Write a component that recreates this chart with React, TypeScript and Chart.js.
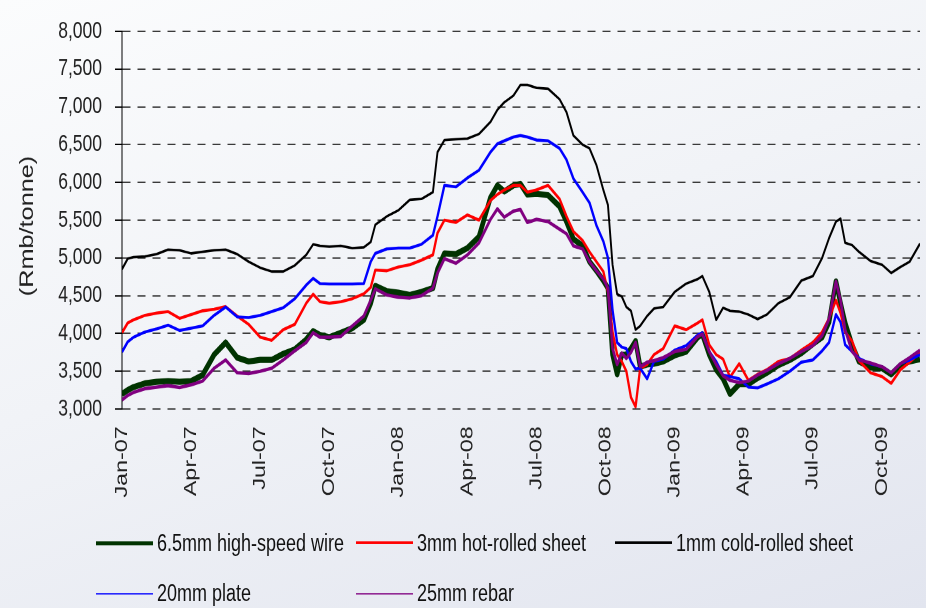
import React, { useEffect, useRef } from 'react';
import { Chart, registerables } from 'chart.js';
Chart.register(...registerables);

// Vertical stretch of the original picture (text looks taller than wide)
const SY = 1.33;
const W = 926;
const H = Math.round(608 / SY);
const FONT = "'Liberation Sans', Arial, Helvetica, sans-serif";

// x values: months since Jan-2007
const months = [
  0, 0.25, 0.5, 1, 1.5, 2, 2.5, 3, 3.5, 4,
  4.5, 5, 5.5, 6, 6.5, 7, 7.5, 8, 8.3, 8.6,
  9, 9.5, 10, 10.5, 10.8, 11, 11.5, 12, 12.5, 13,
  13.5, 13.7, 14, 14.5, 15, 15.5, 16, 16.3, 16.6, 17,
  17.3, 17.6, 18, 18.5, 19, 19.3, 19.6, 20, 20.3, 20.6,
  20.9, 21.1, 21.3, 21.5, 21.7, 21.9, 22.1, 22.3, 22.5, 22.8,
  23.1, 23.5, 24, 24.5, 25, 25.2, 25.5, 25.8, 26.1, 26.4,
  26.8, 27.2, 27.6, 28, 28.5, 29, 29.5, 30, 30.4, 30.7,
  31, 31.2, 31.4, 31.7, 32, 32.5, 33, 33.4, 33.8, 34.2,
  34.65,
];

const tickMonths = [0, 3, 6, 9, 12, 15, 18, 21, 24, 27, 30, 33];
const tickLabels = ['Jan-07', 'Apr-07', 'Jul-07', 'Oct-07', 'Jan-08', 'Apr-08', 'Jul-08', 'Oct-08', 'Jan-09', 'Apr-09', 'Jul-09', 'Oct-09'];
const yTitle = '(Rmb/tonne)';

const wire = [
  3200, 3250, 3290, 3340, 3360, 3370, 3360, 3370, 3450, 3720,
  3880, 3680, 3630, 3650, 3650, 3730, 3790, 3920, 4030, 3980,
  3950, 4010, 4070, 4180, 4400, 4630, 4560, 4540, 4510, 4550,
  4600, 4850, 5060, 5050, 5130, 5280, 5800, 5960, 5880, 5960,
  5980, 5840, 5850, 5830, 5680, 5480, 5250, 5160, 4950, 4830,
  4700, 4600, 3720, 3460, 3720, 3720, 3800, 3900, 3560, 3590,
  3600, 3630, 3710, 3760, 3950, 3990, 3720, 3520, 3400, 3200,
  3330, 3330, 3410, 3480, 3580, 3650, 3740, 3860, 3950, 4150,
  4690, 4400, 4140, 3850, 3630, 3550, 3540, 3460, 3580, 3630,
  3660,
];

const hotRolled = [
  4010, 4140, 4180, 4240, 4270, 4290, 4200, 4250, 4300, 4320,
  4355, 4230, 4120, 3950, 3910, 4050, 4120, 4400, 4520, 4420,
  4400, 4420, 4460, 4525, 4610, 4840, 4830, 4880, 4910, 4970,
  5040, 5330, 5500, 5470, 5570, 5500, 5760, 5840, 5900, 5960,
  5960, 5870, 5900, 5960, 5780, 5550, 5350, 5230, 5080, 4950,
  4820, 4550, 4020, 3720, 3630, 3500, 3155, 3030, 3540, 3590,
  3720, 3800, 4100, 4050, 4140, 4180, 3850, 3720, 3660, 3420,
  3600, 3380, 3460, 3520, 3630, 3670, 3780, 3880, 4020, 4200,
  4440, 4270, 4020, 3900, 3640, 3480, 3430, 3340, 3520, 3620,
  3750,
];

const coldRolled = [
  4850, 4990, 5010, 5020, 5050, 5110, 5100, 5060, 5080, 5100,
  5110, 5050, 4950, 4870, 4820, 4820, 4900, 5040, 5180, 5160,
  5150, 5160, 5130, 5140, 5210, 5440, 5550, 5630, 5770, 5780,
  5870, 6400, 6560, 6570, 6580, 6640, 6800, 6960, 7060, 7150,
  7290, 7290, 7250, 7240, 7100, 6930, 6620, 6500, 6450, 6230,
  5900, 5700, 4910, 4520, 4490, 4350, 4300, 4050, 4100, 4230,
  4330, 4350, 4550, 4660, 4720, 4760, 4550, 4180, 4340, 4300,
  4290, 4250, 4190, 4250, 4400, 4480, 4700, 4760, 5000, 5260,
  5480, 5520, 5200, 5170, 5080, 4960, 4910, 4800, 4880, 4950,
  5190,
];

const plate = [
  3755, 3890, 3950, 4020, 4060, 4110, 4040, 4070, 4100, 4240,
  4350, 4220, 4210, 4240, 4290, 4340, 4460, 4640, 4730, 4660,
  4655, 4655, 4655, 4660, 4950, 5060, 5120, 5130, 5130, 5180,
  5300, 5550, 5960, 5940, 6060, 6160, 6400, 6510, 6550, 6600,
  6620, 6600, 6560, 6550, 6450, 6300, 6050, 5870, 5730, 5430,
  5220, 5000, 4310, 3880, 3820, 3800, 3630, 3530, 3540, 3400,
  3630, 3660, 3780, 3840, 3980, 4010, 3760, 3630, 3450, 3430,
  3400, 3290, 3280, 3330, 3400, 3500, 3620, 3650, 3770, 3880,
  4250, 4150, 3850, 3760, 3670, 3600, 3560, 3480, 3600, 3650,
  3720,
];

const rebar = [
  3120, 3180, 3220, 3270, 3290, 3310, 3285, 3320, 3370, 3540,
  3650, 3480, 3470, 3500, 3540, 3650, 3770, 3880, 4010, 3950,
  3950, 3960, 4100, 4230, 4440, 4590, 4510, 4480, 4470, 4500,
  4600, 4800, 4990, 4930, 5040, 5200, 5510, 5650, 5540, 5620,
  5640, 5470, 5510, 5480, 5380, 5320, 5160, 5120, 4950, 4830,
  4720, 4600, 3800, 3590, 3740, 3670, 3750, 3880, 3560, 3620,
  3640, 3680, 3760, 3790, 3960, 3990, 3760, 3590, 3440, 3380,
  3350, 3370, 3450, 3510, 3600, 3670, 3760, 3840, 3970, 4190,
  4690, 4440, 4050, 3760, 3650, 3610, 3560, 3480, 3600, 3680,
  3780,
];

const seriesLabels = ['6.5mm high-speed wire', '3mm hot-rolled sheet', '1mm cold-rolled sheet', '20mm plate', '25mm rebar'];
const seriesData = [wire, hotRolled, coldRolled, plate, rebar];
const seriesColors = ['#003300', '#ff0000', '#000000', '#0000ff', '#800080'];
const seriesWidths = [4.6, 2.3, 1.9, 2.3, 2.6];
const legendWidths = [2.8, 1.7, 1.7, 1.7, 1.7];
const drawOrder = [3, 2, 4, 1, 0];

// legend grid (layout only)
const legendCols = [96, 356, 615];
const legendRows = [543 / SY, 594 / SY];

const yTitlePlugin = {
  id: 'yTitlePlugin',
  afterDraw(chart: any) {
    const { ctx } = chart;
    ctx.save();
    ctx.translate(28, 226 / SY);
    ctx.rotate(-Math.PI / 2);
    ctx.font = `19px ${FONT}`;
    ctx.fillStyle = '#222';
    ctx.textAlign = 'center';
    ctx.textBaseline = 'middle';
    ctx.fillText(yTitle, 0, 0);
    ctx.restore();
  },
};

export default function App() {
  const ref = useRef<HTMLCanvasElement>(null);

  useEffect(() => {
    const canvas = ref.current;
    if (!canvas) return;
    const chart = new Chart(canvas, {
      type: 'line',
      data: {
        datasets: seriesLabels.map((label, k) => ({
          label,
          data: months.map((m, i) => ({ x: m, y: seriesData[k][i] })),
          borderColor: seriesColors[k],
          backgroundColor: seriesColors[k],
          borderWidth: seriesWidths[k],
          pointRadius: 0,
          tension: 0,
          fill: false,
          order: drawOrder[k],
          borderJoinStyle: 'round' as const,
        })),
      },
      options: {
        animation: false,
        responsive: false,
        devicePixelRatio: 2,
        events: [],
        layout: { padding: { left: 0, right: 6, top: 19 / SY, bottom: 0 } },
        plugins: { legend: { display: false }, tooltip: { enabled: false } },
        scales: {
          x: {
            type: 'linear',
            min: 0,
            max: 34.65,
            grid: { display: false, drawTicks: false },
            border: { display: false },
            ticks: {
              autoSkip: false,
              minRotation: 90,
              maxRotation: 90,
              padding: 13,
              color: '#222',
              font: { family: FONT, size: 17.5 },
              callback: (v: any) => {
                const idx = tickMonths.indexOf(Number(v));
                return idx >= 0 ? tickLabels[idx] : '';
              },
            },
            afterBuildTicks: (s: any) => {
              s.ticks = tickMonths.map((v) => ({ value: v }));
            },
            afterFit: (s: any) => {
              s.height = H - 409 / SY;
            },
          },
          y: {
            type: 'linear',
            min: 3000,
            max: 8000,
            border: { display: true, color: '#000', width: 1, dash: [8, 7] },
            grid: { color: '#3a3a3a', lineWidth: 1, drawTicks: true, tickLength: 7, tickColor: '#000', tickBorderDash: [] },
            ticks: {
              stepSize: 500,
              padding: 13,
              color: '#222',
              font: { family: FONT, size: 17.5 },
              callback: (v: any) => Number(v).toLocaleString('en-US'),
            },
            afterFit: (s: any) => {
              s.width = 122;
            },
          },
        },
      },
      plugins: [yTitlePlugin],
    });
    return () => chart.destroy();
  }, []);

  return (
    <div
      style={{
        position: 'absolute',
        left: 0,
        top: 0,
        width: 926,
        height: 608,
        overflow: 'hidden',
        background: 'linear-gradient(160deg, #fbfcfd 0%, #f1f3f7 45%, #e2e5ef 100%)',
      }}
    >
      <div
        style={{
          position: 'absolute',
          left: 0,
          top: 0,
          width: W,
          height: H,
          transform: `scaleY(${SY})`,
          transformOrigin: '0 0',
        }}
      >
        <canvas ref={ref} width={W} height={H} style={{ display: 'block', width: W, height: H }} />
        {seriesLabels.map((label, k) => {
          const col = k % 3;
          const row = Math.floor(k / 3);
          return (
            <div
              key={label}
              style={{
                position: 'absolute',
                left: legendCols[col],
                top: legendRows[row] - 12,
                height: 24,
                display: 'flex',
                alignItems: 'center',
                whiteSpace: 'nowrap',
                fontFamily: FONT,
                fontSize: 18,
                color: '#111',
              }}
            >
              <span style={{ display: 'inline-block', width: 57, height: legendWidths[k], background: seriesColors[k], marginRight: 4 }} />
              <span>{label}</span>
            </div>
          );
        })}
      </div>
    </div>
  );
}
